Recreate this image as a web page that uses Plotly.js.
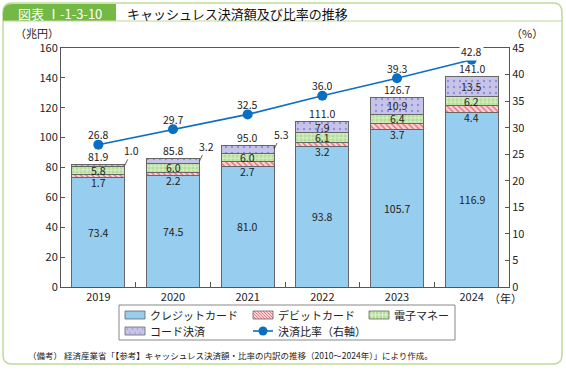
<!DOCTYPE html>
<html>
<head>
<meta charset="utf-8">
<script src="https://cdn.plot.ly/plotly-3.0.1.min.js"></script>
<style>html,body{margin:0;padding:0;background:#fff;}#chart{width:566px;height:371px;}</style>
</head>
<body>
<div id="chart"></div>
<script>
// ---- data ----
const years = ['2019', '2020', '2021', '2022', '2023', '2024'];
const credit = [73.4, 74.5, 81.0, 93.8, 105.7, 116.9];
const debit = [1.7, 2.2, 2.7, 3.2, 3.7, 4.4];
const emoney = [5.8, 6.0, 6.0, 6.1, 6.4, 6.2];
const code = [1.0, 3.2, 5.3, 7.9, 10.9, 13.5];
const total = [81.9, 85.8, 95.0, 111.0, 126.7, 141.0];
const ratio = [26.8, 29.7, 32.5, 36.0, 39.3, 42.8];
const seriesNames = ['クレジットカード', 'デビットカード', '電子マネー', 'コード決済', '決済比率（右軸）'];

// ---- layout geometry (pixels) ----
const W0 = 566, H0 = 371;
const L = 61, R = 509, T = 48, B = 287;
const PW = R - L, PH = B - T;
const fx = p => (p - L) / PW;
const fy = p => (B - p) / PH;
const P = (x, y) => fx(x).toFixed(5) + ',' + fy(y).toFixed(5);

const FONT = '"Noto Sans CJK JP", "Noto Sans", sans-serif';
const C = {
  credit: '#97cdef', debitBg: '#fbd3d7', debitFg: '#e4606c',
  emBg: '#b3de98', emFg: '#e9f6dd', codeBg: '#c7c4ea', codeFg: '#8f90d8',
  line: '#0b6fc1', edge: '#666666', frame: '#bcdc98', head: '#74b845'
};

const fmt = v => v.toFixed(1);
const cats = years;

const barLine = {color: C.edge, width: 1};
const traces = [
  {type: 'bar', name: seriesNames[0], x: cats, y: credit,
   marker: {color: C.credit, line: barLine}, hoverinfo: 'skip'},
  {type: 'bar', name: seriesNames[1], x: cats, y: debit,
   marker: {color: C.debitBg, line: barLine,
     pattern: {shape: '\\', fillmode: 'replace', bgcolor: C.debitBg, fgcolor: C.debitFg, size: 4, solidity: 0.3}}, hoverinfo: 'skip'},
  {type: 'bar', name: seriesNames[2], x: cats, y: emoney,
   marker: {color: C.emBg, line: barLine,
     pattern: {shape: '+', fillmode: 'replace', bgcolor: C.emBg, fgcolor: C.emFg, size: 4, solidity: 0.3}}, hoverinfo: 'skip'},
  {type: 'bar', name: seriesNames[3], x: cats, y: code,
   marker: {color: C.codeBg, line: barLine,
     pattern: {shape: '.', fillmode: 'replace', bgcolor: C.codeBg, fgcolor: C.codeFg, size: 6, solidity: 0.12}}, hoverinfo: 'skip'},
  {type: 'scatter', mode: 'lines+markers', name: seriesNames[4], x: cats, y: ratio, yaxis: 'y2',
   line: {color: C.line, width: 1.6}, marker: {color: C.line, size: 10}, hoverinfo: 'skip', cliponaxis: false}
];

const annotations = [];
const txt = {family: FONT, size: 10.5, color: '#222'};
for (let i = 0; i < cats.length; i++) {
  annotations.push({x: i, y: credit[i] / 2, xref: 'x', yref: 'y', text: fmt(credit[i]), showarrow: false, font: txt});
  annotations.push({x: i, y: credit[i], xref: 'x', yref: 'y', text: fmt(debit[i]), showarrow: false, font: txt, yshift: -5, borderpad: 0});
  annotations.push({x: i, y: credit[i] + debit[i] + emoney[i] / 2, xref: 'x', yref: 'y', text: fmt(emoney[i]), showarrow: false, font: txt, borderpad: 0});
  const codeMid = credit[i] + debit[i] + emoney[i] + code[i] / 2;
  if (code[i] > 6) {
    annotations.push({x: i, y: codeMid, xref: 'x', yref: 'y', text: fmt(code[i]), showarrow: false, font: txt, borderpad: 0});
  } else {
    annotations.push({x: i + 0.355, y: codeMid, xref: 'x', yref: 'y', text: fmt(code[i]), showarrow: true,
      arrowhead: 0, arrowwidth: 0.8, arrowcolor: '#333', ax: 7, ay: -15, standoff: 0, font: txt});
  }
  annotations.push({x: i, y: total[i], xref: 'x', yref: 'y', text: fmt(total[i]), showarrow: false, font: txt, yshift: 8});
  annotations.push({x: i, y: ratio[i], xref: 'x', yref: 'y2', text: fmt(ratio[i]), showarrow: false, font: txt, yshift: 10});
}
// last ratio label sits on the frame line, breaking it
annotations[annotations.length - 1].bgcolor = '#ffffff';
annotations[annotations.length - 1].yshift = 8;

function note(xp, yp, text, font, xanchor) {
  annotations.push({xref: 'paper', yref: 'paper', x: fx(xp), y: fy(yp), xanchor: xanchor || 'center', yanchor: 'middle',
    text: text, showarrow: false, font: font, borderpad: 0});
}
const small = {family: FONT, size: 11, color: '#222'};
// axis titles and extras
note(37, 33, '（兆円）', small);
note(527, 33, '（%）', small);
note(488, 298, '（年）', small, 'left');
// header
note(60, 13, '図表 Ⅰ-1-3-10', {family: FONT, size: 13, color: '#ffffff'});
note(126, 13, 'キャッシュレス決済額及び比率の推移', {family: FONT, size: 13, color: '#111'}, 'left');
// source note
note(27, 355, '（備考） 経済産業省「【参考】キャッシュレス決済額・比率の内訳の推移（2010～2024年）」により作成。',
  {family: FONT, size: 8.5, color: '#222'}, 'left');

// ---- shapes: frame, header, legend ----
const shapes = [];
const r = 9;
shapes.push({type: 'path', xref: 'paper', yref: 'paper', layer: 'below',
  path: `M${P(3 + r, 3)} L${P(562 - r, 3)} Q${P(562, 3)} ${P(562, 3 + r)} L${P(562, 364 - r)} Q${P(562, 364)} ${P(562 - r, 364)} L${P(3 + r, 364)} Q${P(3, 364)} ${P(3, 364 - r)} L${P(3, 3 + r)} Q${P(3, 3)} ${P(3 + r, 3)} Z`,
  line: {color: C.frame, width: 1.5}, fillcolor: 'rgba(0,0,0,0)'});
shapes.push({type: 'path', xref: 'paper', yref: 'paper', layer: 'below',
  path: `M${P(3 + r, 4)} L${P(116, 4)} L${P(116, 21)} L${P(3, 21)} L${P(3, 4 + r)} Q${P(3, 4)} ${P(3 + r, 4)} Z`,
  line: {width: 0}, fillcolor: C.head});
shapes.push({type: 'line', xref: 'paper', yref: 'paper', x0: fx(3), x1: fx(562), y0: fy(21), y1: fy(21),
  line: {color: C.frame, width: 1.2}});

// legend box
shapes.push({type: 'rect', xref: 'paper', yref: 'paper', x0: fx(119), x1: fx(455), y0: fy(305), y1: fy(340),
  line: {color: '#888', width: 1}, fillcolor: '#fff'});

function swatch(x, yc, kind) {
  const w = 20, h = 8, y0 = yc - h / 2, y1 = yc + h / 2;
  const fills = {credit: C.credit, debit: C.debitBg, em: C.emBg, code: C.codeBg};
  shapes.push({type: 'rect', xref: 'paper', yref: 'paper', x0: fx(x), x1: fx(x + w), y0: fy(y0), y1: fy(y1),
    line: {width: 0}, fillcolor: fills[kind]});
  if (kind === 'debit') {
    for (let k = -h; k < w; k += 3) {
      let xa = x + k, ya = y0, xb = x + k + h, yb = y1;
      if (xa < x) { ya += (x - xa); xa = x; }
      if (xb > x + w) { yb -= (xb - x - w); xb = x + w; }
      shapes.push({type: 'line', xref: 'paper', yref: 'paper', x0: fx(xa), y0: fy(ya), x1: fx(xb), y1: fy(yb),
        line: {color: C.debitFg, width: 0.8}});
    }
  } else if (kind === 'em') {
    for (let k = 3; k < w; k += 3.5) {
      shapes.push({type: 'line', xref: 'paper', yref: 'paper', x0: fx(x + k), x1: fx(x + k), y0: fy(y0), y1: fy(y1),
        line: {color: C.emFg, width: 0.8}});
    }
    shapes.push({type: 'line', xref: 'paper', yref: 'paper', x0: fx(x), x1: fx(x + w), y0: fy(yc), y1: fy(yc),
      line: {color: C.emFg, width: 0.8}});
  } else if (kind === 'code') {
    for (let k = 2.5; k < w; k += 5) {
      for (const yy of [y0 + 2, y1 - 2]) {
        const off = (yy === y0 + 2) ? 0 : 2.5;
        const cx = x + k + off;
        if (cx > x + w - 1) continue;
        shapes.push({type: 'circle', xref: 'paper', yref: 'paper', x0: fx(cx - 0.7), x1: fx(cx + 0.7), y0: fy(yy - 0.7), y1: fy(yy + 0.7),
          line: {width: 0}, fillcolor: C.codeFg});
      }
    }
  }
  shapes.push({type: 'rect', xref: 'paper', yref: 'paper', x0: fx(x), x1: fx(x + w), y0: fy(y0), y1: fy(y1),
    line: {color: C.edge, width: 0.8}, fillcolor: 'rgba(0,0,0,0)'});
}
const legItems = [
  {kind: 'credit', x: 125, y: 315, name: seriesNames[0]},
  {kind: 'debit', x: 253, y: 315, name: seriesNames[1]},
  {kind: 'em', x: 369, y: 315, name: seriesNames[2]},
  {kind: 'code', x: 125, y: 331, name: seriesNames[3]},
  {kind: 'line', x: 253, y: 331, name: seriesNames[4]}
];
legItems.forEach(it => {
  if (it.kind === 'line') {
    shapes.push({type: 'line', xref: 'paper', yref: 'paper', x0: fx(it.x), x1: fx(it.x + 20), y0: fy(it.y), y1: fy(it.y),
      line: {color: C.line, width: 1.6}});
    shapes.push({type: 'circle', xref: 'paper', yref: 'paper', x0: fx(it.x + 5.5), x1: fx(it.x + 14.5), y0: fy(it.y - 4.5), y1: fy(it.y + 4.5),
      line: {width: 0}, fillcolor: C.line});
  } else {
    swatch(it.x, it.y, it.kind);
  }
  note(it.x + 24, it.y, it.name, {family: FONT, size: 11, color: '#222'}, 'left');
});

const axisCommon = {showline: true, linecolor: '#555', linewidth: 1, ticks: 'inside', ticklen: 4, tickcolor: '#555',
  showgrid: false, zeroline: false, fixedrange: true, tickfont: {family: FONT, size: 11, color: '#222'}};

const layout = {
  width: W0, height: H0,
  margin: {l: L, r: W0 - R, t: T, b: H0 - B, pad: 0},
  paper_bgcolor: '#fff', plot_bgcolor: 'rgba(0,0,0,0)',
  barmode: 'stack', bargap: 0.29,
  showlegend: false,
  font: {family: FONT},
  xaxis: Object.assign({}, axisCommon, {type: 'category', tickson: 'boundaries', mirror: true, ticklen: 5,
    range: [-0.5, cats.length - 0.5], autorange: false, tickangle: 0}),
  yaxis: Object.assign({}, axisCommon, {range: [0, 160], dtick: 20, autorange: false}),
  yaxis2: Object.assign({}, axisCommon, {range: [0, 45], dtick: 5, overlaying: 'y', side: 'right', autorange: false}),
  annotations: annotations,
  shapes: shapes
};

Plotly.newPlot('chart', traces, layout, {staticPlot: true, displayModeBar: false});
</script>
</body>
</html>
